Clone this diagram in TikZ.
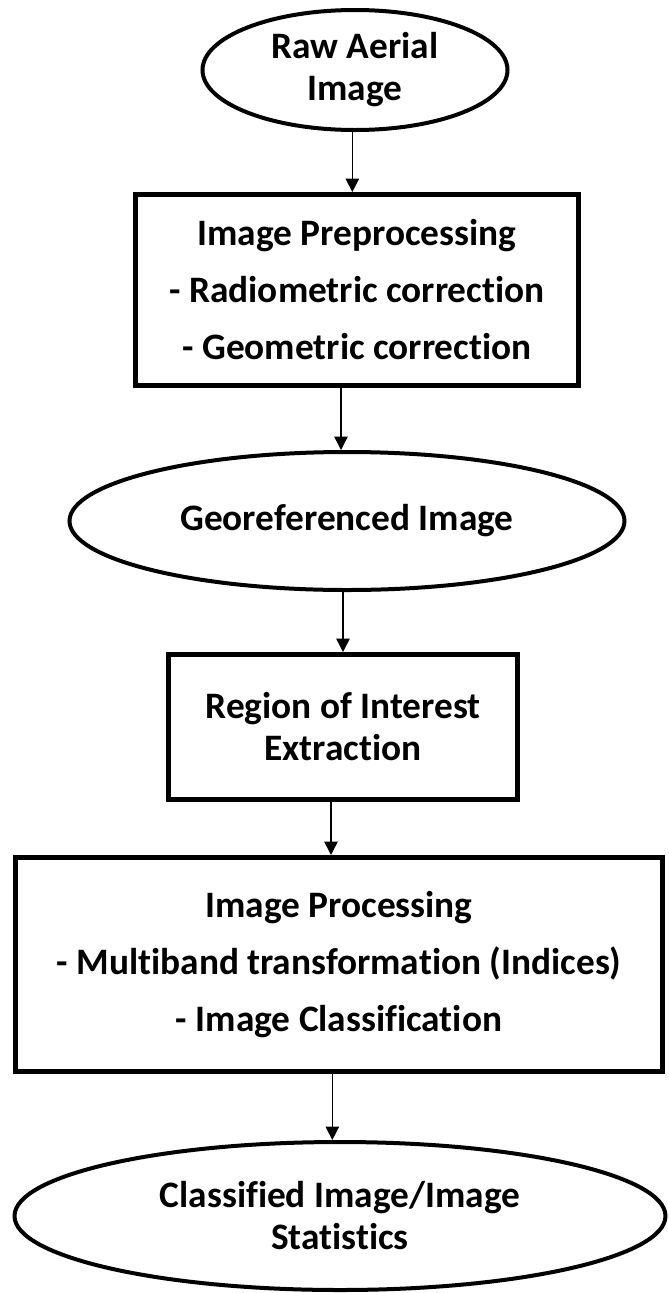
\documentclass[tikz,border=0pt]{standalone}
\usepackage{fontspec}
\setmainfont{Carlito}[Ligatures=NoCommon]
\usetikzlibrary{arrows.meta,shapes.geometric,positioning}
\tikzset{
  oval/.style={ellipse, draw, line width=3pt, inner sep=0pt, align=center,
    font=\bfseries\fontsize{28pt}{31.5pt}\selectfont},
  procbox/.style={rectangle, draw, line width=3.6pt, inner sep=0pt, align=center,
    font=\bfseries\fontsize{28pt}{31.5pt}\selectfont},
  flow/.style={-{Triangle[length=10pt,width=10pt]}, line width=1.1pt}
}

\begin{document}
\begin{tikzpicture}[node distance=45pt]
	\useasboundingbox (0,0) rectangle (501pt,-969.75pt);

	\node[oval, minimum width=228.75pt, minimum height=90pt] (rawimg) at (266.25pt,-52.5pt) {Raw Aerial\\Image};
	\node[procbox, minimum width=332.4pt, minimum height=143.4pt] (preproc) [below=45pt of rawimg, xshift=1.5pt]
		{Image Preprocessing\\[11.25pt]- Radiometric correction\\[11.25pt]- Geometric correction};
	\node[oval, minimum width=416.25pt, minimum height=103.5pt] (georef) [below=46.5pt of preproc, xshift=-7.5pt] {Georeferenced Image};
	\node[procbox, minimum width=261.9pt, minimum height=108.9pt] (roi) [below=45pt of georef, xshift=-3pt] {Region of Interest\\Extraction};
	\node[procbox, minimum width=485.4pt, minimum height=160.65pt] (imgproc) [below=39.75pt of roi, xshift=-3pt]
		{Image Processing\\[11.25pt]- Multiband transformation (Indices)\\[11.25pt]- Image Classification};
	\node[oval, minimum width=488.25pt, minimum height=111pt] (classified) [below=49.5pt of imgproc, xshift=0.75pt] {Classified Image/Image\\Statistics};

	% connectors
	\draw[flow] ([xshift=-2pt]rawimg.south) -- ([xshift=-2pt]rawimg.south |- preproc.north);
	\draw[flow] ([xshift=-12pt]preproc.south) -- ([xshift=-12pt]preproc.south |- georef.north);
	\draw[flow] (roi.north |- georef.south) -- (roi.north);
	\draw[flow] ([xshift=-9pt]roi.south) -- ([xshift=-9pt]roi.south |- imgproc.north);
	\draw[flow] ([xshift=-5pt]imgproc.south) -- ([xshift=-5pt]imgproc.south |- classified.north);
\end{tikzpicture}
\end{document}
